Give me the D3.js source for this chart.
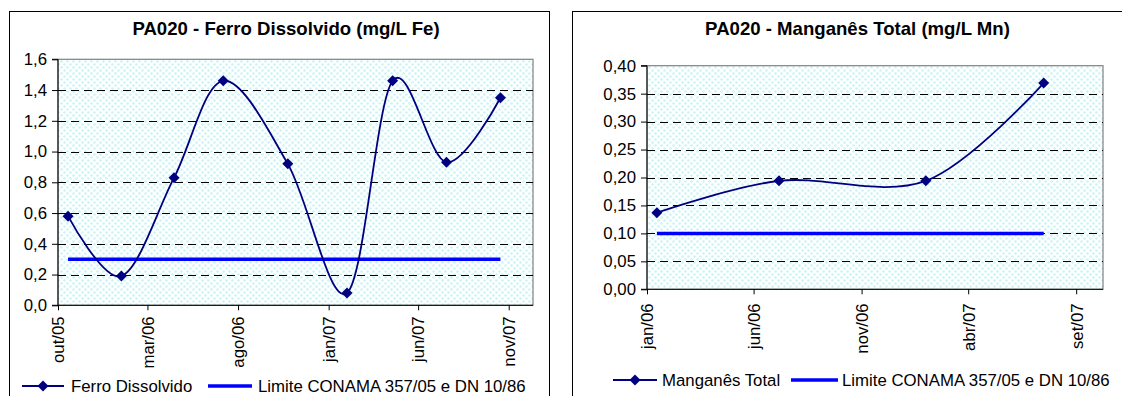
<!DOCTYPE html>
<html><head><meta charset="utf-8">
<script src="https://cdn.jsdelivr.net/npm/d3@7"></script>
<style>
body{margin:0;background:#fff}
svg{display:block}
text{font-family:"Liberation Sans",Arial,sans-serif;fill:#000}
</style>
</head><body>
<svg id="c" width="1122" height="396"></svg>
<script>
// ---------- Data ----------
const feDates  = ["2005-10-18","2006-01-16","2006-04-15","2006-07-07","2006-10-24","2007-02-01","2007-04-19","2007-07-19","2007-10-18"];
const feValues = [0.58, 0.19, 0.83, 1.46, 0.92, 0.08, 1.46, 0.93, 1.35];
const feLimit  = [0.3, 0.3, 0.3, 0.3, 0.3, 0.3, 0.3, 0.3, 0.3];
const feTickDates  = ["2005-10-01","2006-03-01","2006-08-01","2007-01-01","2007-06-01","2007-11-01"];
const feTickLabels = ["out/05","mar/06","ago/06","jan/07","jun/07","nov/07"];
const feYTicks = [0, 0.2, 0.4, 0.6, 0.8, 1.0, 1.2, 1.4, 1.6];

const mnDates  = ["2006-01-15","2006-07-07","2007-01-31","2007-07-17"];
const mnValues = [0.137, 0.194, 0.194, 0.369];
const mnLimit  = [0.10, 0.10, 0.10, 0.10];
const mnTickDates  = ["2006-01-01","2006-06-01","2006-11-01","2007-04-01","2007-09-01"];
const mnTickLabels = ["jan/06","jun/06","nov/06","abr/07","set/07"];
const mnYTicks = [0, 0.05, 0.10, 0.15, 0.20, 0.25, 0.30, 0.35, 0.40];

const titles = ["PA020 - Ferro Dissolvido (mg/L Fe)", "PA020 - Manganês Total (mg/L Mn)"];
const seriesNames = ["Ferro Dissolvido", "Manganês Total"];
const limitName = "Limite CONAMA 357/05 e DN 10/86";

// ---------- Drawing ----------
const svg = d3.select("#c");
const parse = d3.timeParse("%Y-%m-%d");
const defs = svg.append("defs");
const pat = defs.append("pattern").attr("id","dots").attr("patternUnits","userSpaceOnUse")
  .attr("width",6).attr("height",6);
pat.append("rect").attr("width",6).attr("height",6).attr("fill","#ffffff");
pat.append("circle").attr("cx",1.5).attr("cy",1.5).attr("r",1.3).attr("fill","#c6f6f8");
pat.append("circle").attr("cx",4.5).attr("cy",4.5).attr("r",1.3).attr("fill","#c6f6f8");

const diamond = "M0,-5.5L5.5,0L0,5.5L-5.5,0Z";
const fontSize = 16.8;

function drawChart(c) {
  const g = svg.append("g");
  g.append("rect").attr("x", c.box[0] + 0.5).attr("y", c.box[1] + 0.5)
    .attr("width", c.box[2] - c.box[0]).attr("height", c.box[3] - c.box[1])
    .attr("fill","#fff").attr("stroke","#000").attr("stroke-width",1);
  g.append("text").attr("x", c.titleX).attr("y", 35).attr("text-anchor","middle")
    .style("font-size","18.6px").style("font-weight","bold").text(c.title);

  const x = d3.scaleTime().domain([parse(c.xDomain[0]), parse(c.xDomain[1])]).range([c.plot[0], c.plot[1]]);
  const y = d3.scaleLinear().domain([0, c.yMax]).range([c.plot[3], c.plot[2]]);

  g.append("rect").attr("x", c.plot[0]).attr("y", c.plot[2])
    .attr("width", c.plot[1] - c.plot[0]).attr("height", c.plot[3] - c.plot[2])
    .attr("fill","url(#dots)").attr("stroke","#808080").attr("stroke-width",1.2);

  g.append("g").selectAll("line").data(c.yTicks.filter(v => v > 0 && v < c.yMax)).join("line")
    .attr("x1", c.plot[0]).attr("x2", c.plot[1])
    .attr("y1", d => Math.round(y(d)) + 0.5).attr("y2", d => Math.round(y(d)) + 0.5)
    .attr("stroke","#000").attr("stroke-width",1).attr("stroke-dasharray","8,5");

  const yAxis = d3.axisLeft(y).tickValues(c.yTicks).tickSize(6).tickPadding(5)
    .tickFormat(d => d3.format(c.yFmt)(d).replace(".", ","));
  const ya = g.append("g").attr("transform", `translate(${c.plot[0]},0)`).call(yAxis);
  ya.select(".domain").attr("d", `M-6,${c.plot[3]}H0V${c.plot[2]}H-6`).attr("stroke","#000");
  ya.selectAll("text").style("font-size", fontSize + "px");

  const tickDates = c.tickDates.map(parse);
  const xAxis = d3.axisBottom(x).tickValues(tickDates).tickSize(5).tickFormat((d, i) => c.tickLabels[i]);
  const xa = g.append("g").attr("transform", `translate(0,${c.plot[3]})`).call(xAxis);
  xa.select(".domain").attr("d", `M${c.plot[0]},0H${c.plot[1]}`).attr("stroke","#000");
  xa.selectAll("text").style("font-size", fontSize + "px")
    .attr("text-anchor","end").attr("transform", `rotate(-90)`)
    .attr("x", -c.labelGap).attr("y", 0).attr("dy","0.35em");

  const limData = c.dates.map((d, i) => ({d: parse(d), v: c.limit[i]}));
  g.append("path").datum(limData)
    .attr("d", d3.line().x(p => x(p.d)).y(p => y(p.v)))
    .attr("fill","none").attr("stroke","#0000ff").attr("stroke-width",3.5);

  const data = c.dates.map((d, i) => ({d: parse(d), v: c.values[i]}));
  g.append("path").datum(data)
    .attr("d", d3.line().x(p => x(p.d)).y(p => y(p.v)).curve(d3.curveCatmullRom.alpha(0)))
    .attr("fill","none").attr("stroke","#000080").attr("stroke-width",1.8);
  g.append("g").selectAll("path").data(data).join("path")
    .attr("transform", p => `translate(${x(p.d)},${y(p.v)})`)
    .attr("d", diamond).attr("fill","#000080");

  const L = c.legend;
  g.append("line").attr("x1", L.s1).attr("x2", L.s2).attr("y1", L.y).attr("y2", L.y)
    .attr("stroke","#000080").attr("stroke-width",1.8);
  g.append("path").attr("transform", `translate(${(L.s1 + L.s2) / 2},${L.y})`).attr("d", diamond).attr("fill","#000080");
  g.append("text").attr("x", L.t1).attr("y", L.y).attr("dy","0.35em").style("font-size", fontSize + "px").text(c.seriesName);
  g.append("line").attr("x1", L.l1).attr("x2", L.l2).attr("y1", L.y).attr("y2", L.y)
    .attr("stroke","#0000ff").attr("stroke-width",3.5);
  g.append("text").attr("x", L.t2).attr("y", L.y).attr("dy","0.35em").style("font-size", fontSize + "px").text(limitName);
}

drawChart({
  box: [9, 11, 549, 420], title: titles[0], titleX: 286,
  plot: [58, 533, 59.3, 305.3], yMax: 1.6, yTicks: feYTicks, yFmt: ".1f",
  xDomain: ["2005-10-01","2007-12-12"], tickDates: feTickDates, tickLabels: feTickLabels, labelGap: 11,
  dates: feDates, values: feValues, limit: feLimit, seriesName: seriesNames[0],
  legend: {y: 386, s1: 22, s2: 64, t1: 71, l1: 208, l2: 252, t2: 258}
});
drawChart({
  box: [572, 11, 1145, 420], title: titles[1], titleX: 857.5,
  plot: [647, 1103, 65.7, 289.3], yMax: 0.4, yTicks: mnYTicks, yFmt: ".2f",
  xDomain: ["2006-01-01","2007-10-09"], tickDates: mnTickDates, tickLabels: mnTickLabels, labelGap: 14,
  dates: mnDates, values: mnValues, limit: mnLimit, seriesName: seriesNames[1],
  legend: {y: 380, s1: 613, s2: 657, t1: 662, l1: 791, l2: 838, t2: 842}
});
</script>
</body></html>
